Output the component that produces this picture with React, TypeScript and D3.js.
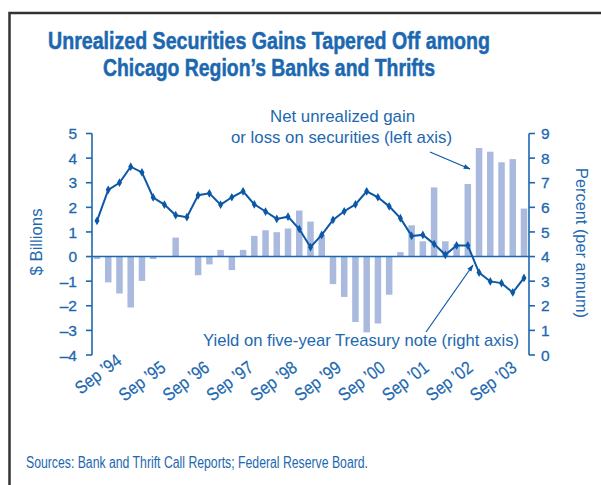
import React from "react";
import * as d3 from "d3";

const quarters: string[] = [
  "Mar 94","Jun 94","Sep 94","Dec 94","Mar 95","Jun 95","Sep 95","Dec 95",
  "Mar 96","Jun 96","Sep 96","Dec 96","Mar 97","Jun 97","Sep 97","Dec 97",
  "Mar 98","Jun 98","Sep 98","Dec 98","Mar 99","Jun 99","Sep 99","Dec 99",
  "Mar 00","Jun 00","Sep 00","Dec 00","Mar 01","Jun 01","Sep 01","Dec 01",
  "Mar 02","Jun 02","Sep 02","Dec 02","Mar 03","Jun 03","Sep 03",
];

const unrealizedGain: number[] = [
  -0.1, -1.05, -1.5, -2.07, -0.99, -0.1, 0, 0.77,
  0, -0.76, -0.32, 0.27, -0.55, 0.27, 0.84, 1.07,
  0.99, 1.14, 1.87, 1.42, 0.88, -1.12, -1.64, -2.66,
  -3.08, -2.72, -1.55, 0.18, 1.27, 0.62, 2.81, 0.62,
  0.5, 2.95, 4.41, 4.26, 3.83, 3.96, 1.95,
];

const treasuryYield: number[] = [
  5.45, 6.71, 7.0, 7.65, 7.42, 6.4, 6.11, 5.68,
  5.6, 6.49, 6.57, 6.11, 6.41, 6.65, 6.12, 5.83,
  5.53, 5.62, 5.12, 4.38, 4.88, 5.49, 5.84, 6.12,
  6.65, 6.41, 6.04, 5.56, 4.84, 4.88, 4.51, 4.07,
  4.45, 4.45, 3.35, 2.99, 2.92, 2.54, 3.13,
];

const tickQuarters: string[] = [
  "Sep 94","Sep 95","Sep 96","Sep 97","Sep 98","Sep 99","Sep 00","Sep 01","Sep 02","Sep 03",
];
const tickLabels: string[] = [
  "Sep \u201994","Sep \u201995","Sep \u201996","Sep \u201997","Sep \u201998",
  "Sep \u201999","Sep \u201900","Sep \u201901","Sep \u201902","Sep \u201903",
];

const leftTicks: number[] = [5, 4, 3, 2, 1, 0, -1, -2, -3, -4];
const rightTicks: number[] = [9, 8, 7, 6, 5, 4, 3, 2, 1, 0];

const BLUE = "#1c68b0";
const LINE = "#0b58a6";
const BAR = "#aab9de";
const FONT = "'Liberation Sans', 'Roboto', sans-serif";

export default function App() {
  const W = 601, H = 485;
  const leftX = 92, rightX = 529;
  const top = 133.5, bottom = 355;

  const x = d3.scalePoint<string>().domain(quarters).range([97, 524]);
  const yL = d3.scaleLinear().domain([-4, 5]).range([bottom, top]);
  const yR = d3.scaleLinear().domain([0, 9]).range([bottom, top]);
  const bw = 6.5;

  const line = d3.line<number>()
    .x((_, i) => x(quarters[i]) as number)
    .y((d) => yR(d));

  const diamond = d3.symbol().type(d3.symbolDiamond).size(22)() as string;

  const fmt = (v: number) => (v < 0 ? "\u2013" + Math.abs(v) : String(v));
  const sq = "spacingAndGlyphs";

  return (
    <svg width={W} height={H} style={{ position: "absolute", left: 0, top: 0, background: "#fff" }} fontFamily={FONT}>
      <defs>
        <marker id="ah" viewBox="0 0 10 10" refX="9" refY="5" markerWidth="8" markerHeight="7" orient="auto" markerUnits="userSpaceOnUse">
          <path d="M0,1.5 L10,5 L0,8.5 Z" fill={LINE} />
        </marker>
      </defs>
      {/* frame */}
      <path d={`M9.5,${H} L9.5,13 L${W},13`} fill="none" stroke="#333" strokeWidth={2.5} />

      {/* title */}
      <text x={48} y={48.5} fill={BLUE} stroke={BLUE} strokeWidth={0.5} fontWeight="bold" fontSize={23} textLength={442} lengthAdjust={sq}>
        Unrealized Securities Gains Tapered Off among
      </text>
      <text x={103} y={76} fill={BLUE} stroke={BLUE} strokeWidth={0.5} fontWeight="bold" fontSize={23} textLength={332} lengthAdjust={sq}>
        Chicago Region’s Banks and Thrifts
      </text>

      {/* bars */}
      {unrealizedGain.map((v, i) => (
        <rect key={i}
          x={(x(quarters[i]) as number) - bw / 2}
          y={Math.min(yL(v), yL(0))}
          width={bw}
          height={Math.abs(yL(v) - yL(0))}
          fill={BAR} />
      ))}

      {/* zero line */}
      <line x1={leftX} x2={rightX} y1={yL(0)} y2={yL(0)} stroke={BLUE} strokeWidth={1.6} />

      {/* yield line */}
      <path d={line(treasuryYield) as string} fill="none" stroke={LINE} strokeWidth={2} />
      {treasuryYield.map((v, i) => (
        <path key={i} d={diamond} transform={`translate(${x(quarters[i])},${yR(v)})`} fill={LINE} />
      ))}

      {/* left axis */}
      <line x1={leftX} x2={leftX} y1={top} y2={bottom} stroke={BLUE} strokeWidth={1.6} />
      {leftTicks.map((t) => (
        <g key={t}>
          <line x1={leftX - 6} x2={leftX} y1={yL(t)} y2={yL(t)} stroke={BLUE} strokeWidth={1.6} />
          <text x={77} y={yL(t)} dy="0.36em" textAnchor="end" fill={BLUE} stroke={BLUE} strokeWidth={0.3} fontSize={15.5}>{fmt(t)}</text>
        </g>
      ))}
      <text transform={`translate(42,242) rotate(-90)`} textAnchor="middle" fill={BLUE} fontSize={16} textLength={67} lengthAdjust={sq}>$ Billions</text>

      {/* right axis */}
      <line x1={rightX} x2={rightX} y1={top} y2={bottom} stroke={BLUE} strokeWidth={1.6} />
      {rightTicks.map((t) => (
        <g key={t}>
          <line x1={rightX} x2={rightX + 6} y1={yR(t)} y2={yR(t)} stroke={BLUE} strokeWidth={1.6} />
          <text x={541} y={yR(t)} dy="0.36em" textAnchor="start" fill={BLUE} stroke={BLUE} strokeWidth={0.3} fontSize={15.5}>{t}</text>
        </g>
      ))}
      <text transform={`translate(576,243) rotate(90)`} textAnchor="middle" fill={BLUE} fontSize={16.5} textLength={150} lengthAdjust={sq}>Percent (per annum)</text>

      {/* x labels */}
      {tickQuarters.map((q, i) => (
        <text key={q}
          transform={`translate(${(x(q) as number) + 3.5 - i * 1.05},${i === 0 ? 363 : 370}) rotate(-37)`}
          textAnchor="end" fill={BLUE} stroke={BLUE} strokeWidth={0.2} fontSize={18} textLength={53} lengthAdjust={sq}>
          {tickLabels[i]}
        </text>
      ))}

      {/* annotations */}
      <text x={270} y={122} fill={BLUE} fontSize={17} textLength={145} lengthAdjust={sq}>Net unrealized gain</text>
      <text x={231} y={143} fill={BLUE} fontSize={17} textLength={221} lengthAdjust={sq}>or loss on securities (left axis)</text>
      <line x1={430} y1={152} x2={470} y2={169} stroke={LINE} strokeWidth={1.2} markerEnd="url(#ah)" />

      <text x={203} y={346} fill={BLUE} fontSize={17} textLength={316} lengthAdjust={sq}>Yield on five-year Treasury note (right axis)</text>
      <line x1={426} y1={332} x2={473} y2={265} stroke={LINE} strokeWidth={1.2} markerEnd="url(#ah)" />

      {/* source */}
      <text x={26} y={468} fill={BLUE} fontSize={16} textLength={342} lengthAdjust={sq}>Sources: Bank and Thrift Call Reports; Federal Reserve Board.</text>
    </svg>
  );
}
